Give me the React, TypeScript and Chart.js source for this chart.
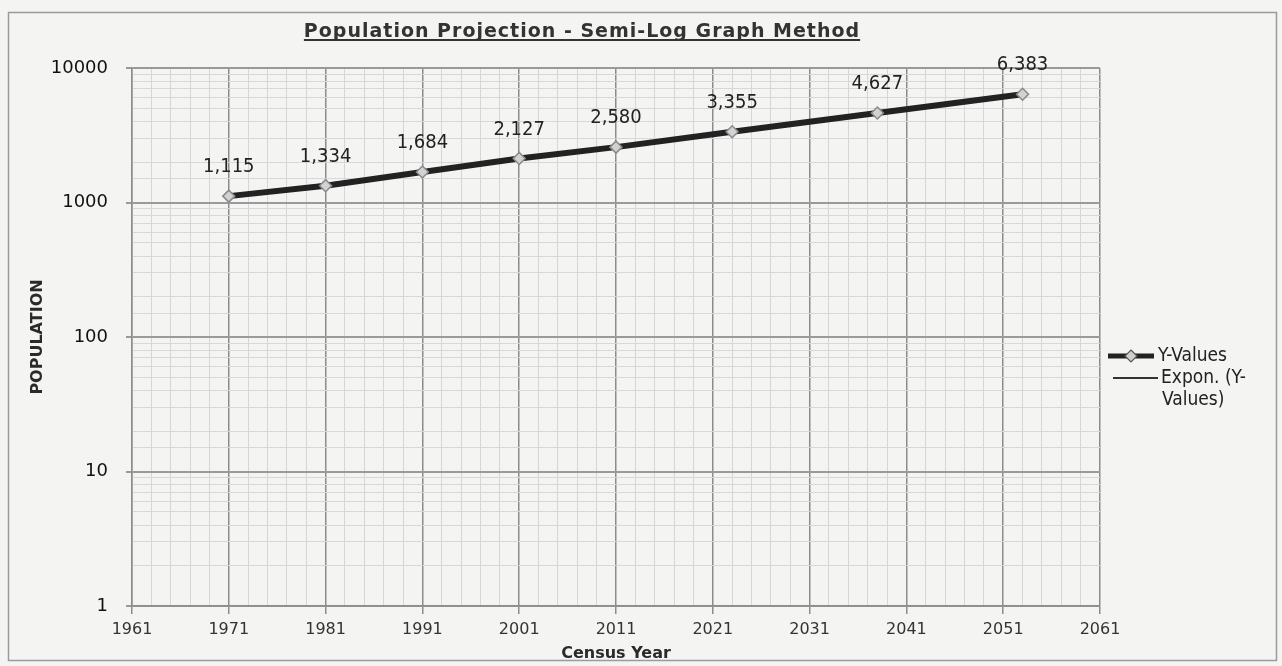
import React, { useEffect, useRef } from 'react';
import { Chart, registerables } from 'chart.js';

Chart.register(...registerables);

// ---- Data ----
const censusYears = [1971, 1981, 1991, 2001, 2011, 2023, 2038, 2053];
const population = [1115, 1334, 1684, 2127, 2580, 3355, 4627, 6383];
const dataLabels = ['1,115', '1,334', '1,684', '2,127', '2,580', '3,355', '4,627', '6,383'];

// Exponential trendline (visually overlaps the data line)
const trendYears = [1971, 2053];
const trendValues = [1110, 6400];

const xMajorTicks = [1961, 1971, 1981, 1991, 2001, 2011, 2021, 2031, 2041, 2051, 2061];
const xTickLabels = ['1961', '1971', '1981', '1991', '2001', '2011', '2021', '2031', '2041', '2051', '2061'];
const yMajorTicks = [1, 10, 100, 1000, 10000];
const yTickLabels = ['1', '10', '100', '1000', '10000'];

const chartTitle = 'Population Projection - Semi-Log Graph Method';
const xTitle = 'Census Year';
const yTitle = 'POPULATION';
const legendMain = 'Y-Values';
const legendTrendLines = ['Expon. (Y-', 'Values)'];

const FONT = '"DejaVu Sans", sans-serif';
const FONT_C = '"DejaVu Sans Condensed", "DejaVu Sans", sans-serif';

const isMajorX = (v: number) => xMajorTicks.indexOf(v) >= 0;
const isMajorY = (v: number) => {
  const l = Math.log10(v);
  return Math.abs(l - Math.round(l)) < 1e-9;
};

const decorPlugin = {
  id: 'decor',
  beforeDraw(chart: any) {
    const ctx = chart.ctx;
    ctx.save();
    ctx.fillStyle = '#f4f4f3';
    ctx.fillRect(0, 0, chart.width, chart.height);
    ctx.strokeStyle = '#9a9a9a';
    ctx.lineWidth = 1.5;
    ctx.strokeRect(8.5, 12.5, 1268, 648);
    ctx.restore();
  },
  afterDatasetsDraw(chart: any) {
    const ctx = chart.ctx;
    const meta = chart.getDatasetMeta(0);
    ctx.save();
    ctx.fillStyle = '#222';
    ctx.font = `20px ${FONT_C}`;
    ctx.textAlign = 'center';
    ctx.textBaseline = 'middle';
    meta.data.forEach((pt: any, i: number) => {
      ctx.fillText(dataLabels[i], pt.x, pt.y - 29);
    });
    ctx.restore();
  },
  afterDraw(chart: any) {
    const ctx = chart.ctx;
    ctx.save();
    // Title with underline
    ctx.font = `bold 19px ${FONT}`;
    try {
      (ctx as any).letterSpacing = '1px';
    } catch (e) {}
    ctx.fillStyle = '#333';
    ctx.textAlign = 'center';
    ctx.textBaseline = 'alphabetic';
    const tx = 582;
    const ty = 37;
    ctx.fillText(chartTitle, tx, ty);
    const w = ctx.measureText(chartTitle).width;
    try {
      (ctx as any).letterSpacing = '0px';
    } catch (e) {}
    ctx.strokeStyle = '#333';
    ctx.lineWidth = 1.8;
    ctx.beginPath();
    ctx.moveTo(tx - w / 2, ty + 3);
    ctx.lineTo(tx + w / 2, ty + 3);
    ctx.stroke();

    // Legend
    const lx = 1108;
    ctx.strokeStyle = '#222';
    ctx.lineWidth = 5;
    ctx.beginPath();
    ctx.moveTo(lx, 356);
    ctx.lineTo(lx + 46, 356);
    ctx.stroke();
    ctx.fillStyle = '#cfcfcf';
    ctx.strokeStyle = '#555';
    ctx.lineWidth = 1.2;
    ctx.beginPath();
    ctx.moveTo(lx + 23, 350);
    ctx.lineTo(lx + 29, 356);
    ctx.lineTo(lx + 23, 362);
    ctx.lineTo(lx + 17, 356);
    ctx.closePath();
    ctx.fill();
    ctx.stroke();

    ctx.strokeStyle = '#333';
    ctx.lineWidth = 2;
    ctx.beginPath();
    ctx.moveTo(lx + 5, 378);
    ctx.lineTo(lx + 50, 378);
    ctx.stroke();

    ctx.fillStyle = '#222';
    ctx.font = `19px ${FONT_C}`;
    ctx.textAlign = 'left';
    ctx.textBaseline = 'middle';
    ctx.fillText(legendMain, lx + 50, 356);
    ctx.fillText(legendTrendLines[0], lx + 53, 378);
    ctx.fillText(legendTrendLines[1], lx + 54, 400);
    ctx.restore();
  },
};

export default function App() {
  const ref = useRef<HTMLCanvasElement | null>(null);

  useEffect(() => {
    if (!ref.current) return;
    const chart = new Chart(ref.current, {
      type: 'scatter',
      data: {
        datasets: [
          {
            label: legendMain,
            data: censusYears.map((x, i) => ({ x, y: population[i] })),
            showLine: true,
            borderColor: '#222',
            borderWidth: 6,
            pointStyle: 'rectRot',
            pointRadius: 6,
            pointBackgroundColor: '#d2d2d2',
            pointBorderColor: '#8a8a8a',
            pointBorderWidth: 1.5,
            order: 0,
          },
          {
            label: 'Expon. (Y-Values)',
            data: trendYears.map((x, i) => ({ x, y: trendValues[i] })),
            showLine: true,
            borderColor: '#3a3a3a',
            borderWidth: 2,
            pointRadius: 0,
            order: 1,
          },
        ],
      },
      options: {
        responsive: false,
        animation: false,
        devicePixelRatio: 1,
        layout: { padding: { left: 0, right: 182, top: 68, bottom: 0 } },
        plugins: {
          legend: { display: false },
          tooltip: { enabled: false },
          title: { display: false },
        },
        scales: {
          x: {
            type: 'linear',
            min: 1961,
            max: 2061,
            afterBuildTicks: (scale: any) => {
              const t = [];
              for (let v = 1961; v <= 2061; v += 2) t.push({ value: v });
              scale.ticks = t;
            },
            afterFit: (scale: any) => {
              scale.height = 60;
            },
            ticks: {
              autoSkip: false,
              maxRotation: 0,
              padding: 6,
              color: '#333',
              font: { family: FONT, size: 16 },
              callback: (v: any) => {
                const i = xMajorTicks.indexOf(Number(v));
                return i >= 0 ? xTickLabels[i] : '';
              },
            },
            grid: {
              color: (c: any) => (c.tick && isMajorX(c.tick.value) ? '#8c8c8c' : '#d6d6d6'),
              lineWidth: (c: any) => (c.tick && isMajorX(c.tick.value) ? 1.5 : 1),
              tickColor: (c: any) => (c.tick && isMajorX(c.tick.value) ? '#8c8c8c' : 'rgba(0,0,0,0)'),
              tickLength: 8,
            },
            border: { color: '#8c8c8c', width: 1.5 },
            title: {
              display: true,
              text: xTitle,
              color: '#2a2a2a',
              font: { family: FONT, size: 16, weight: 'bold' },
              padding: { top: 0, bottom: 3 },
            },
          },
          y: {
            type: 'logarithmic',
            min: 1,
            max: 10000,
            afterFit: (scale: any) => {
              scale.width = 132;
            },
            ticks: {
              autoSkip: false,
              padding: 18,
              color: '#111',
              font: { family: FONT, size: 18 },
              callback: (v: any) => {
                const i = yMajorTicks.indexOf(Number(v));
                return i >= 0 ? yTickLabels[i] : '';
              },
            },
            grid: {
              color: (c: any) => (c.tick && isMajorY(c.tick.value) ? '#9a9a9a' : '#d8d8d8'),
              lineWidth: (c: any) => (c.tick && isMajorY(c.tick.value) ? 2 : 1),
              tickColor: (c: any) => (c.tick && isMajorY(c.tick.value) ? '#9a9a9a' : 'rgba(0,0,0,0)'),
              tickLength: 6,
            },
            border: { color: '#8c8c8c', width: 1.5 },
            title: {
              display: true,
              text: yTitle,
              color: '#2a2a2a',
              font: { family: FONT, size: 16, weight: 'bold' },
              padding: { top: 28, bottom: 0 },
            },
          },
        },
      },
      plugins: [decorPlugin],
    } as any);
    return () => chart.destroy();
  }, []);

  return (
    <div style={{ position: 'fixed', left: 0, top: 0, width: 1282, height: 666, overflow: 'hidden', background: '#f4f4f3' }}>
      <canvas ref={ref} width={1282} height={666} style={{ display: 'block' }} />
    </div>
  );
}
